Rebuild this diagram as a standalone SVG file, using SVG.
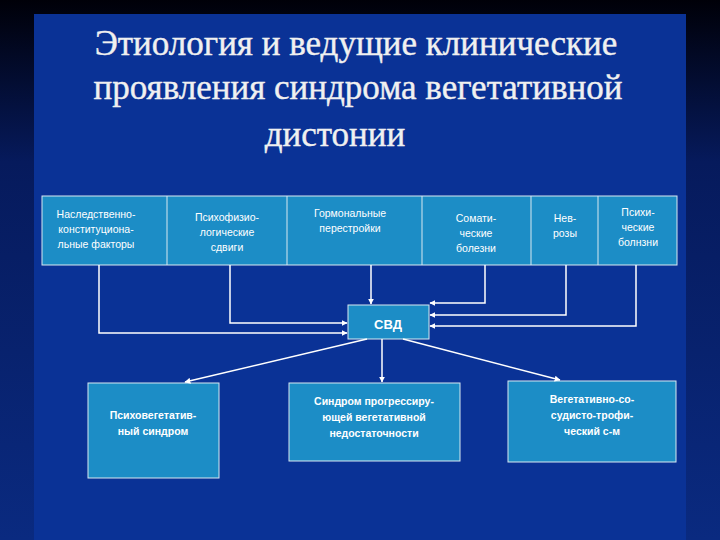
<svg xmlns="http://www.w3.org/2000/svg" width="720" height="540" viewBox="0 0 720 540">
<defs>
<linearGradient id="bg" x1="0" y1="0" x2="0" y2="1">
<stop offset="0" stop-color="#000008"/><stop offset="0.3" stop-color="#061a5c"/><stop offset="1" stop-color="#0a2a80"/>
</linearGradient>
<marker id="ah" viewBox="0 0 10 10" refX="9" refY="5" markerWidth="4" markerHeight="4" orient="auto"><path d="M0,0L10,5L0,10z" fill="#fff"/></marker>
<style>
.box{fill:#1c8dc6;stroke:#d8e8f0;stroke-width:1}
.t{font-family:"Liberation Sans",Arial,sans-serif;font-size:10.5px;fill:#fff;text-anchor:middle}
.b{font-family:"Liberation Sans",Arial,sans-serif;font-size:13px;font-weight:bold;fill:#fff;text-anchor:middle}
.c{fill:none;stroke:#fff;stroke-width:1.5;marker-end:url(#ah)}
.title{font-family:"Liberation Serif","Times New Roman",serif;font-size:35px;fill:#f0f0f0;text-anchor:middle;stroke:#f0f0f0;stroke-width:0.4}
</style>
</defs>
<rect width="720" height="540" fill="url(#bg)"/>
<rect x="34" y="14" width="652" height="526" fill="#0a3296"/>
<g id="title">
<text class="title" x="356" y="55">Этиология и  ведущие клинические</text>
<text class="title" x="358" y="99">проявления синдрома вегетативной</text>
<text class="title" x="335" y="146">дистонии</text>
</g>
<g id="top">
<rect class="box" x="42" y="196" width="635" height="69"/>
<path d="M167,196V265M287,196V265M422,196V265M531,196V265M598,196V265" stroke="#d8e8f0" stroke-width="1"/>
<text class="t" x="96" y="218">Наследственно-<tspan x="96" dy="15">конституциона-</tspan><tspan x="96" dy="15">льные факторы</tspan></text>
<text class="t" x="227" y="221">Психофизио-<tspan x="227" dy="15">логические</tspan><tspan x="227" dy="15">сдвиги</tspan></text>
<text class="t" x="350" y="217">Гормональные<tspan x="350" dy="15">перестройки</tspan></text>
<text class="t" x="476" y="222">Сомати-<tspan x="476" dy="15">ческие</tspan><tspan x="476" dy="15">болезни</tspan></text>
<text class="t" x="565" y="222">Нев-<tspan x="565" dy="15">розы</tspan></text>
<text class="t" x="638" y="216">Психи-<tspan x="638" dy="15">ческие</tspan><tspan x="638" dy="15">болнзни</tspan></text>
</g>
<g id="svd">
<rect class="box" x="348" y="305" width="81" height="34"/>
<text class="b" x="388" y="329" font-size="16">СВД</text>
</g>
<g id="b1"><rect class="box" x="88" y="383" width="131" height="95"/>
<text class="t" x="153" y="419" font-weight="bold" font-size="12">Психовегетатив-<tspan x="153" dy="16">ный синдром</tspan></text></g>
<g id="b2"><rect class="box" x="289" y="383" width="171" height="78"/>
<text class="t" x="374" y="405" font-weight="bold" font-size="12">Синдром прогрессиру-<tspan x="374" dy="16">ющей вегетативной</tspan><tspan x="374" dy="16">недостаточности</tspan></text></g>
<g id="b3"><rect class="box" x="508" y="381" width="168" height="81"/>
<text class="t" x="592" y="403" font-weight="bold" font-size="12">Вегетативно-со-<tspan x="592" dy="16">судисто-трофи-</tspan><tspan x="592" dy="16">ческий  с-м</tspan></text></g>
<g id="connectors">
<path class="c" d="M99,265V333H347"/>
<path class="c" d="M230,265V323H347"/>
<path class="c" d="M371,265V304"/>
<path class="c" d="M485,265V303H430"/>
<path class="c" d="M566,265V315H430"/>
<path class="c" d="M636,265V326H430"/>
<path class="c" d="M367,339L185,382"/>
<path class="c" d="M382,339V382"/>
<path class="c" d="M403,339L560,380"/>
</g>
</svg>
